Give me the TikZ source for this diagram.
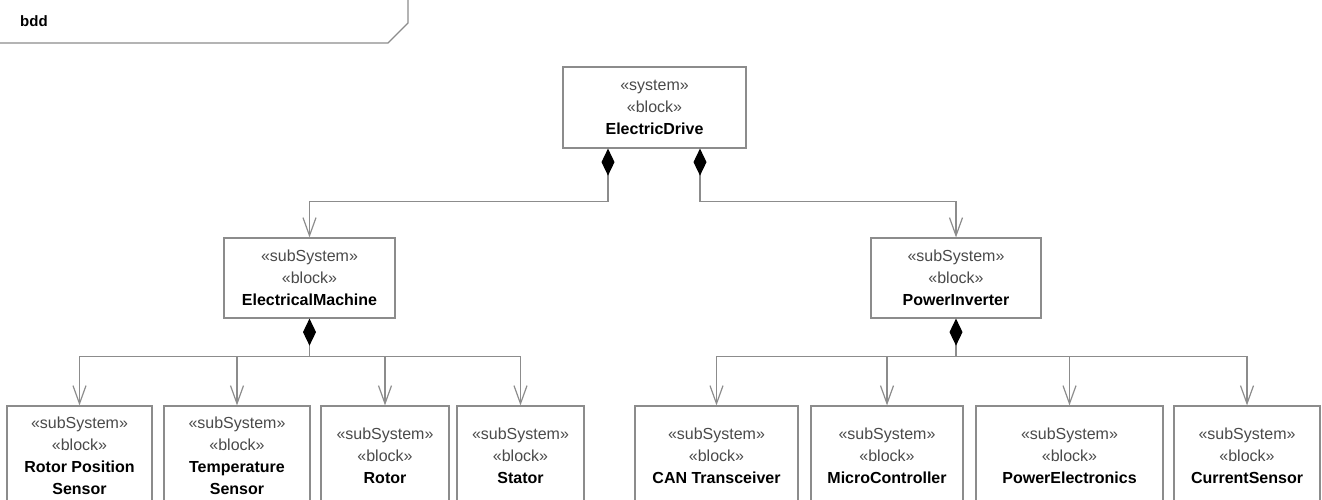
\documentclass[tikz,border=0pt]{standalone}
\usepackage{fontspec}
\setmainfont{Liberation Sans}
\usetikzlibrary{arrows.meta}
\definecolor{linegray}{HTML}{8C8C8C}
\definecolor{stereo}{HTML}{4A4A4A}
\newcommand{\stereotxt}[1]{{\color{stereo}«#1»}}
\tikzset{
  blk/.style={draw=linegray, line width=1.2pt, fill=white, align=center, inner sep=0pt,
    font=\fontsize{16}{22}\selectfont, text=black},
  comp/.style={draw=linegray, line width=1.2pt,
    {Diamond[length=27pt,width=13pt,color=black]}-{Straight Barb[length=18pt,width=13pt]}},
  jn/.style={draw=linegray, line width=1.2pt, {Diamond[length=27pt,width=13pt,color=black]}-},
  agg/.style={draw=linegray, line width=1.2pt, -{Straight Barb[length=18pt,width=13pt]}},
  framel/.style={draw=linegray, line width=1.2pt},
}
\begin{document}
\begin{tikzpicture}[x=1pt,y=-1pt]
\useasboundingbox (0,0) rectangle (1322,499);
\clip (0,0) rectangle (1322,499);

% frame name compartment
\draw[framel] (0,43) -- (388,43) -- (408,23) -- (408,-2);
\node[font=\fontsize{15}{18}\selectfont\bfseries, anchor=west, inner sep=0pt] (frm) at (20,21) {bdd};

% top
\node[blk, minimum width=183pt, minimum height=81pt] (top) at (654.5,107.5)
  {\stereotxt{system}\\ \stereotxt{block}\\ \textbf{ElectricDrive}};

% level 2
\node[blk, minimum width=171pt, minimum height=80pt] (em) at (309.5,278)
  {\stereotxt{subSystem}\\ \stereotxt{block}\\ \textbf{ElectricalMachine}};
\node[blk, minimum width=170pt, minimum height=80pt] (pi) at (956,278)
  {\stereotxt{subSystem}\\ \stereotxt{block}\\ \textbf{PowerInverter}};

% level 3
\node[blk, minimum width=145pt, minimum height=100pt] (rps) at (79.5,456)
  {\stereotxt{subSystem}\\ \stereotxt{block}\\ \textbf{Rotor Position}\\ \textbf{Sensor}};
\node[blk, minimum width=146pt, minimum height=100pt] (ts) at (237,456)
  {\stereotxt{subSystem}\\ \stereotxt{block}\\ \textbf{Temperature}\\ \textbf{Sensor}};
\node[blk, minimum width=128pt, minimum height=100pt] (rot) at (385,456)
  {\stereotxt{subSystem}\\ \stereotxt{block}\\ \textbf{Rotor}};
\node[blk, minimum width=127pt, minimum height=100pt] (sta) at (520.5,456)
  {\stereotxt{subSystem}\\ \stereotxt{block}\\ \textbf{Stator}};
\node[blk, minimum width=163pt, minimum height=100pt] (can) at (716.5,456)
  {\stereotxt{subSystem}\\ \stereotxt{block}\\ \textbf{CAN Transceiver}};
\node[blk, minimum width=152pt, minimum height=100pt] (mc) at (887,456)
  {\stereotxt{subSystem}\\ \stereotxt{block}\\ \textbf{MicroController}};
\node[blk, minimum width=187pt, minimum height=100pt] (pe) at (1069.5,456)
  {\stereotxt{subSystem}\\ \stereotxt{block}\\ \textbf{PowerElectronics}};
\node[blk, minimum width=146pt, minimum height=100pt] (cs) at (1247,456)
  {\stereotxt{subSystem}\\ \stereotxt{block}\\ \textbf{CurrentSensor}};

% connectors top -> level 2
\draw[comp] ([xshift=-46.5pt]top.south) -- ++(0,53) -| (em.north);
\draw[comp] ([xshift=45.5pt]top.south) -- ++(0,53) -| (pi.north);

% level 2 -> level 3
\draw[jn] (em.south) -- ++(0,38) coordinate (emj);
\foreach \c in {rps,ts,rot,sta} \draw[agg] (emj) -| (\c.north);
\draw[jn] (pi.south) -- ++(0,38) coordinate (pij);
\foreach \c in {can,mc,pe,cs} \draw[agg] (pij) -| (\c.north);
\end{tikzpicture}
\end{document}
